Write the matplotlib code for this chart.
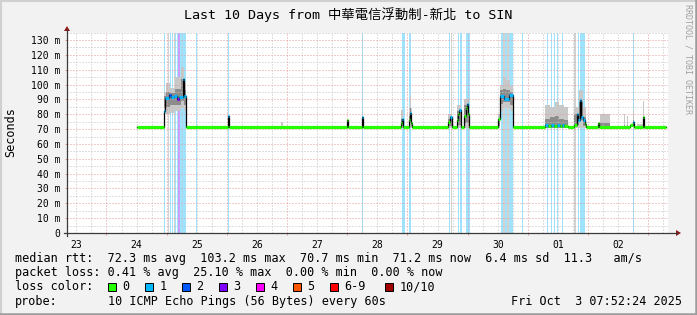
import matplotlib
matplotlib.use("Agg")
import matplotlib.pyplot as plt
from matplotlib.lines import Line2D
from matplotlib.patches import Polygon, Rectangle

# time axis: days since Sep 24 00:00, window ends Oct 3 07:52
day_labels = ['23', '24', '25', '26', '27', '28', '29', '30', '01', '02']
label_days = [-0.5, 0.5, 1.5, 2.5, 3.5, 4.5, 5.5, 6.5, 7.5, 8.5]
y_ticks = [0, 10, 20, 30, 40, 50, 60, 70, 80, 90, 100, 110, 120, 130]
y_labels = ['0', '10 m', '20 m', '30 m', '40 m', '50 m', '60 m', '70 m',
            '80 m', '90 m', '100 m', '110 m', '120 m', '130 m']

# median rtt (ms) as steps: start day, value, loss count (of 10)
med_t = [0.50, 0.955, 0.975, 1.04, 1.07, 1.12, 1.17, 1.205, 1.27, 1.295, 1.315,
         2.02, 2.035,
         3.99, 4.005,
         4.244, 4.261,
         4.887, 4.905, 4.93,
         5.025, 5.045, 5.06, 5.075,
         5.678, 5.70, 5.734,
         5.817, 5.84, 5.86, 5.889,
         5.944, 5.965, 5.99, 6.01, 6.027,
         6.503, 6.536, 6.60, 6.68, 6.748,
         7.284, 7.33, 7.38, 7.43, 7.48, 7.53, 7.56, 7.60, 7.661,
         7.771, 7.811, 7.84, 7.87, 7.89, 7.92, 7.948, 7.965,
         8.169, 8.185,
         8.696, 8.741, 8.762,
         8.917, 8.934]
med_v = [71.3, 82, 91, 93, 91.5, 92, 90.5, 91.5, 103.5, 92, 71.2,
         79, 71.2,
         76, 71.2,
         78.3, 71.2,
         74, 77, 71.2,
         76, 80.6, 74, 71.2,
         75, 78, 71.2,
         76, 80, 82.8, 71.2,
         79, 84, 87, 80, 71.2,
         76.6, 92.5, 90.5, 93, 71.2,
         72.5, 72, 73, 72, 72.5, 72, 73, 72, 71.2,
         72.5, 80, 76, 89.6, 78, 76, 73.5, 71.2,
         74, 71.2,
         73, 75, 71.2,
         78, 71.2]
med_loss = [0, 1, 1, 2, 1, 1, 3, 1, 1, 1, 0,
            1, 0,
            0, 0,
            1, 0,
            0, 1, 0,
            0, 1, 0, 0,
            0, 1, 0,
            0, 0, 1, 0,
            0, 0, 1, 0, 0,
            0, 1, 1, 1, 0,
            1, 0, 1, 0, 1, 0, 1, 0, 0,
            0, 1, 1, 1, 1, 1, 0, 0,
            0, 0,
            0, 1, 0,
            0, 0]
med_end = 9.294

# smoke: start, end, outer band lo/hi, core band lo/hi (ms)
smoke_t0 = [0.955, 0.99, 1.06, 1.14, 1.23, 1.29,
            2.90, 4.887, 5.025, 5.045, 5.06, 5.678, 5.817, 5.944,
            6.503, 6.536, 6.58, 6.64, 6.70,
            7.284, 7.36, 7.45, 7.52, 7.60,
            7.771, 7.85, 7.92, 8.198, 8.60, 8.65, 8.745, 8.807, 8.917]
smoke_t1 = [0.99, 1.06, 1.14, 1.23, 1.29, 1.32,
            2.93, 4.93, 5.045, 5.06, 5.075, 5.734, 5.889, 6.027,
            6.536, 6.58, 6.64, 6.70, 6.748,
            7.36, 7.45, 7.52, 7.60, 7.661,
            7.85, 7.92, 7.965, 8.364, 8.62, 8.665, 8.76, 8.917, 8.934]
smoke_lo = [80, 80, 81, 82, 84, 82,
            71, 71, 71, 71, 71, 71, 71, 71,
            71, 82, 84, 84, 82,
            71, 71, 71, 71, 71,
            71, 71, 71, 71, 71, 71, 71, 71, 71]
smoke_hi = [95, 101, 98, 105, 112, 101,
            75, 83, 84, 93, 84, 80, 86, 90,
            80, 100, 105, 103, 99,
            86, 85, 88, 86, 85,
            85, 96, 85, 80.5, 80, 79, 83, 73.5, 89]
core_lo = [84, 85, 86, 86, 89, 86,
           71, 72, 72, 74, 72, 72, 73, 74,
           72, 87, 88, 88, 86,
           71, 71, 71, 71, 71,
           73, 76, 72, 71, 71, 71, 72, 71, 72]
core_hi = [92, 95, 94, 97, 104, 96,
           72, 77, 79, 84, 78, 77, 82, 86,
           76, 96, 97, 96, 95,
           77, 78, 79, 77, 76,
           80, 88, 78, 74, 73, 73, 76, 72, 78]

# loss periods: start, end, loss count
loss_t0 = [0.963, 0.997, 1.055, 1.096, 1.138, 1.171, 1.196, 1.229, 1.487, 2.018,
           4.244, 4.914, 5.033, 5.694, 5.839, 5.877, 5.977, 6.548, 6.620, 6.691,
           6.897, 7.312, 7.379, 7.434, 7.478, 7.561, 7.827, 7.865, 8.741]
loss_t1 = [0.980, 1.013, 1.071, 1.113, 1.155, 1.188, 1.229, 1.329, 1.503, 2.035,
           4.261, 4.963, 5.066, 5.711, 5.856, 5.900, 6.038, 6.591, 6.648, 6.748,
           6.924, 7.339, 7.400, 7.455, 7.500, 7.588, 7.854, 7.948, 8.762]
loss_n = [1, 1, 1, 1, 1, 1, 3, 1, 1, 1,
          1, 1, 1, 1, 1, 1, 1, 1, 1, 1,
          1, 1, 1, 1, 1, 1, 1, 1, 1]

# intervals where smoke runs past the top of the graph
tmo_t0 = [1.027, 1.080, 1.121, 5.730, 6.591, 6.648, 7.771]
tmo_t1 = [1.040, 1.090, 1.133, 5.740, 6.620, 6.691, 7.800]

loss_names = ['0', '1', '2', '3', '4', '5', '6-9', '10/10']
loss_colors = ['#26ff00', '#00b8ff', '#0059ff', '#7e00ff', '#ff00ff',
               '#ff5500', '#ff0000', '#a10000']
rtt_stats = [72.3, 103.2, 70.7, 71.2, 6.4, 11.3]
loss_stats = [0.41, 25.10, 0.00, 0.00]

W, H = 697, 315
MONO = 'DejaVu Sans Mono'
MGRID = '#e29a9a'
GRID = '#c2c2c2'
AXIS = '#3a3a3a'
ARROW = '#8b1a1a'

fig = plt.figure(figsize=(W / 100, H / 100), dpi=100, facecolor='#f2f2f2')
ax = fig.add_axes([67 / W, 1 - 233 / H, 601 / W, (233 - 32.6) / H])
ax.set_facecolor('white')
ax.set_xlim(-0.656, 9.328)
ax.set_ylim(0, 135)
for s in ax.spines.values():
    s.set_visible(False)

# loss background and timeouts
for a, b, n in zip(loss_t0, loss_t1, loss_n):
    ax.axvspan(a, b, color=loss_colors[n], alpha=0.38, lw=0, zorder=1)
for a, b in zip(tmo_t0, tmo_t1):
    ax.axvspan(a, b, color='#d2d2d2', lw=0, zorder=1)

# smoke
for a, b, lo, hi, clo, chi in zip(smoke_t0, smoke_t1, smoke_lo, smoke_hi, core_lo, core_hi):
    ax.fill_between([a, b], lo, hi, color='#c8c8c8', lw=0, zorder=2)
    ax.fill_between([a, b], clo, chi, color='#8c8c8c', lw=0, zorder=2.1)

# grid
dot = (0, (1, 2))
for k in range(-2, 38):
    d = k * 0.25
    if d < -0.656 or d > 9.328:
        continue
    ax.axvline(d, color=MGRID if k % 4 == 0 else GRID, lw=0.72, ls=dot, zorder=2.5)
for v in range(5, 136, 5):
    ax.axhline(v, color=MGRID if v % 10 == 0 else GRID, lw=0.72, ls=dot, zorder=2.5)

# median line
ax.step(med_t + [med_end], med_v + [med_v[-1]], where='post', color='black',
        lw=0.9, zorder=3)
ax.hlines(med_v, med_t, med_t[1:] + [med_end],
          colors=[loss_colors[n] for n in med_loss], lw=2.3, zorder=4)

# ticks and labels
ax.set_xticks(label_days)
ax.set_xticklabels(day_labels, fontfamily=MONO, fontsize=7)
ax.set_xticks(list(range(0, 10)), minor=True)
ax.tick_params(axis='x', which='major', length=0, pad=5)
ax.tick_params(axis='x', which='minor', length=1.5, width=0.72, color=MGRID)
ax.set_yticks(y_ticks)
ax.set_yticklabels(y_labels, fontfamily=MONO, fontsize=7)
ax.tick_params(axis='y', length=1.5, width=0.72, color=MGRID, pad=3.5)


def px(x, y):
    return x / W, 1 - y / H


# axes with arrows
fig.add_artist(Line2D([67 / W, 67 / W], [1 - 236 / H, 1 - 30 / H], color=AXIS, lw=0.9))
fig.add_artist(Line2D([64 / W, 677 / W], [1 - 233 / H, 1 - 233 / H], color=AXIS, lw=0.9))
fig.add_artist(Polygon([px(64, 31), px(70, 31), px(67, 26)], closed=True,
                       color=ARROW, lw=0, transform=fig.transFigure))
fig.add_artist(Polygon([px(676, 230), px(676, 236), px(681, 233)], closed=True,
                       color=ARROW, lw=0, transform=fig.transFigure))

# frame
fig.add_artist(Line2D([0, 1], [1 - 0.8 / H] * 2, color='#d0d0d0', lw=1.5))
fig.add_artist(Line2D([0.8 / W] * 2, [0, 1], color='#d0d0d0', lw=1.5))
fig.add_artist(Line2D([0, 1], [1.2 / H] * 2, color='#9c9c9c', lw=1.8))
fig.add_artist(Line2D([1 - 1.2 / W] * 2, [0, 1], color='#9c9c9c', lw=1.8))

# title, axis label, watermark
fig.text(0.5, 1 - 19 / H, 'Last 10 Days from 中華電信浮動制-新北 to SIN',
         ha='center', va='baseline', fontsize=9.6,
         family=[MONO, 'Noto Sans CJK TC'])
fig.text(*px(11, 132), 'Seconds', rotation=90, ha='center', va='center',
         family=MONO, fontsize=8.5)
fig.text(*px(688, 59), 'RRDTOOL / TOBI OETIKER', rotation=270, ha='center',
         va='center', family=MONO, fontsize=6, color='#a0a0a0')

# legend
row1 = ('median rtt:  {:.1f} ms avg  {:.1f} ms max  {:.1f} ms min  {:.1f} ms now  '
        '{:.1f} ms sd  {:.1f}   am/s').format(*rtt_stats)
row2 = 'packet loss: {:.2f} % avg  {:.2f} % max  {:.2f} % min  {:.2f} % now'.format(*loss_stats)
fig.text(*px(15, 262), row1, family=MONO, fontsize=8.5, va='baseline')
fig.text(*px(15, 276), row2, family=MONO, fontsize=8.5, va='baseline')
fig.text(*px(15, 290.5), 'loss color:', family=MONO, fontsize=8.5, va='baseline')
box_x = [108, 145, 182, 219, 256, 293, 330, 385]
for bx, name, c in zip(box_x, loss_names, loss_colors):
    fig.add_artist(Rectangle(px(bx, 290.5), 8 / W, 8 / H, facecolor=c,
                             edgecolor='black', lw=0.7, transform=fig.transFigure))
    fig.text(*px(bx + 14.4, 290.5), name, family=MONO, fontsize=8.5, va='baseline')
fig.text(*px(15, 305), 'probe:', family=MONO, fontsize=8.5, va='baseline')
fig.text(*px(108, 305), '10 ICMP Echo Pings (56 Bytes) every 60s', family=MONO,
         fontsize=8.5, va='baseline')
fig.text(*px(682, 305), 'Fri Oct  3 07:52:24 2025', family=MONO, fontsize=8.5,
         va='baseline', ha='right')

fig.savefig('out.png', dpi=100, facecolor=fig.get_facecolor())
